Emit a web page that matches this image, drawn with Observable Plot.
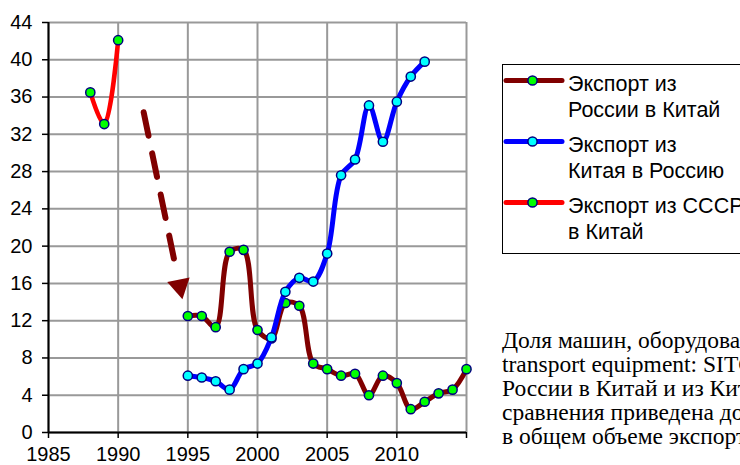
<!DOCTYPE html>
<html><head><meta charset="utf-8">
<script src="https://cdn.jsdelivr.net/npm/d3@7"></script>
<script src="https://cdn.jsdelivr.net/npm/@observablehq/plot@0.6"></script>
<style>
html,body{margin:0;padding:0;background:#fff;overflow:hidden;}
#wrap{position:relative;width:740px;height:465px;overflow:hidden;background:#fff;}
#chart{position:absolute;left:0;top:0;}
#legend{position:absolute;left:502px;top:64px;width:300px;height:190px;border:1.5px solid #000;box-sizing:border-box;}
.item{position:absolute;left:568px;font-family:"Liberation Sans",Arial,sans-serif;font-size:21.5px;line-height:26px;color:#000;white-space:nowrap;}
.sample{position:absolute;left:500px;}
#caption{position:absolute;left:502px;top:328px;font-family:"Liberation Serif","Times New Roman",serif;font-size:23.5px;line-height:24px;color:#000;white-space:nowrap;}
</style>
</head>
<body>
<div id="wrap">
  <div id="chart"></div>
  <div id="legend"></div>
  <div id="items"></div>
  <div id="caption"></div>
</div>
<script>
// ---- data ----
const russiaYears = [1995,1996,1997,1998,1999,2000,2001,2002,2003,2004,2005,2006,2007,2008,2009,2010,2011,2012,2013,2014,2015];
const russiaToChina = [12.5,12.5,11.3,19.4,19.6,11.0,10.1,13.9,13.6,7.4,6.8,6.1,6.3,4.0,6.1,5.3,2.5,3.3,4.2,4.6,6.8];
const chinaYears = [1995,1996,1997,1998,1999,2000,2001,2002,2003,2004,2005,2006,2007,2008,2009,2010,2011,2012];
const chinaToRussia = [6.1,5.9,5.5,4.6,6.8,7.4,10.2,15.1,16.6,16.2,19.2,27.6,29.3,35.1,31.2,35.5,38.2,39.8];
const ussrYears = [1988,1989,1990];
const ussrToChina = [36.5,33.1,42.1];
const xTicks = [1985,1990,1995,2000,2005,2010,2015];
const xTickLabels = ["1985","1990","1995","2000","2005","2010",""];
const yTicks = [0,4,8,12,16,20,24,28,32,36,40,44];
const arrowShaftX = [1991.83,1994.0];
const arrowShaftY = [34.37,18.67];
const arrowHeadX = [1994.42];
const arrowHeadY = [15.7];
const seriesNames = [["Экспорт из","России в Китай"],["Экспорт из","Китая в Россию"],["Экспорт из СССР","в Китай"]];
const captionLines = [
  "Доля машин, оборудования и транспортных средств (Machinery and",
  "transport equipment: SITC 7) в экспорте из",
  "России в Китай и из Китая в Россию, %. Для",
  "сравнения приведена доля машин и оборудования",
  "в общем объеме экспорта из СССР в Китай"
];

// ---- build tables ----
const russia = russiaYears.map((y,i)=>({year:y,value:russiaToChina[i]}));
const china = chinaYears.map((y,i)=>({year:y,value:chinaToRussia[i]}));
const ussr = ussrYears.map((y,i)=>({year:y,value:ussrToChina[i]}));
const shaft = arrowShaftX.map((x,i)=>({x, y:arrowShaftY[i]}));
const head = arrowHeadX.map((x,i)=>({x, y:arrowHeadY[i]}));
const labelMap = new Map(xTicks.map((t,i)=>[t,xTickLabels[i]]));

const styles = [
  {stroke:"#800000", fill:"#00ff00"},
  {stroke:"#0000ff", fill:"#00ffff"},
  {stroke:"#ff0000", fill:"#00ff00"}
];
const gridStyle = {stroke:"#999999", strokeOpacity:1, strokeWidth:2};
const dotStyle = (f)=>({x:"year", y:"value", r:4.6, fill:f, stroke:"#000080", strokeWidth:1.5});

const chart = Plot.plot({
  width:740, height:465,
  marginLeft:48, marginRight:274, marginTop:22, marginBottom:33,
  style:{fontFamily:"'Liberation Sans', Arial, sans-serif", fontSize:"20px", color:"#000", background:"transparent", overflow:"visible"},
  x:{domain:[1985,2015]},
  y:{domain:[0,44]},
  marks:[
    Plot.gridX(xTicks, gridStyle),
    Plot.gridY(yTicks, gridStyle),
    Plot.axisX({ticks:xTicks, tickFormat:d=>labelMap.get(d), tickSize:6, tickPadding:8, label:null, fontSize:20, strokeWidth:1.5}),
    Plot.axisY({ticks:yTicks, tickSize:6, tickPadding:10, label:null, fontSize:20, strokeWidth:1.5}),
    Plot.ruleX([1985], {stroke:"#000", strokeWidth:2}),
    Plot.ruleY([0], {stroke:"#000", strokeWidth:2}),
    Plot.line(shaft, {x:"x", y:"y", stroke:"#800000", strokeWidth:6, strokeDasharray:"24,18"}),
    Plot.dot(head, {x:"x", y:"y", symbol:"triangle", r:8.5, rotate:168.3, fill:"#800000", stroke:"none"}),
    Plot.line(russia, {x:"year", y:"value", curve:"catmull-rom", stroke:styles[0].stroke, strokeWidth:5}),
    Plot.dot(russia, dotStyle(styles[0].fill)),
    Plot.line(china, {x:"year", y:"value", curve:"catmull-rom", stroke:styles[1].stroke, strokeWidth:5}),
    Plot.dot(china, dotStyle(styles[1].fill)),
    Plot.line(ussr, {x:"year", y:"value", curve:"catmull-rom", stroke:styles[2].stroke, strokeWidth:4.5}),
    Plot.dot(ussr, dotStyle(styles[2].fill))
  ]
});
document.getElementById("chart").appendChild(chart);

// ---- legend ----
const items = document.getElementById("items");
const tops = [71,132,193];
seriesNames.forEach((lines,i)=>{
  const t = document.createElement("div");
  t.className = "item";
  t.style.top = tops[i]+"px";
  t.innerHTML = lines.join("<br>");
  items.appendChild(t);
  const ns = "http://www.w3.org/2000/svg";
  const s = document.createElementNS(ns,"svg");
  s.setAttribute("class","sample");
  s.setAttribute("width","70"); s.setAttribute("height","20");
  s.style.top = (tops[i]+0)+"px";
  const ln = document.createElementNS(ns,"line");
  ln.setAttribute("x1","6"); ln.setAttribute("x2","62");
  ln.setAttribute("y1","9.5"); ln.setAttribute("y2","9.5");
  ln.setAttribute("stroke",styles[i].stroke);
  ln.setAttribute("stroke-width","5");
  ln.setAttribute("stroke-linecap","round");
  s.appendChild(ln);
  const c = document.createElementNS(ns,"circle");
  c.setAttribute("cx","32.5"); c.setAttribute("cy","9.5"); c.setAttribute("r","4.6");
  c.setAttribute("fill",styles[i].fill); c.setAttribute("stroke","#000080"); c.setAttribute("stroke-width","1.5");
  s.appendChild(c);
  items.appendChild(s);
});

// ---- caption ----
document.getElementById("caption").innerHTML = captionLines.join("<br>");
</script>
</body></html>
